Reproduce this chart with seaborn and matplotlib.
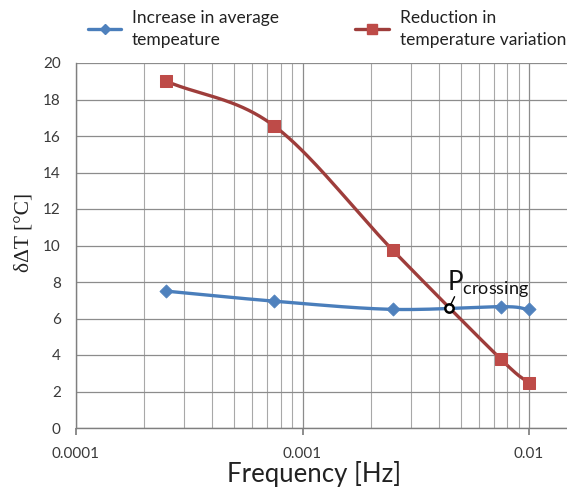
import numpy as np
import pandas as pd
import matplotlib
matplotlib.use("Agg")
import matplotlib.pyplot as plt
from matplotlib.lines import Line2D
from matplotlib.ticker import LogLocator, FixedLocator, NullFormatter
import seaborn as sns

# ---- data ----
freq = [0.00025, 0.00075, 0.0025, 0.0075, 0.01]
increase_avg = [7.5, 6.95, 6.5, 6.65, 6.5]
reduction_var = [19.0, 16.55, 9.75, 3.78, 2.45]
series_labels = ["Increase in average\ntempeature", "Reduction in\ntemperature variation"]
x_ticks = [0.0001, 0.001, 0.01]
x_tick_labels = ["0.0001", "0.001", "0.01"]
y_ticks = list(range(0, 21, 2))
cross_x, cross_y = 0.00444, 6.58

BLUE_LINE = "#4A7EBB"
BLUE_MARK = "#4F81BD"
RED_LINE = "#9E3D3B"
RED_MARK = "#BE4B48"


def catmull_rom(xs, ys, n=40):
    lx = np.log10(np.asarray(xs, float))
    y = np.asarray(ys, float)
    P = np.column_stack([lx, y])
    P = np.vstack([2 * P[0] - P[1], P, 2 * P[-1] - P[-2]])
    out = []
    for i in range(1, len(P) - 2):
        p0, p1, p2, p3 = P[i - 1], P[i], P[i + 1], P[i + 2]
        t = np.linspace(0, 1, n)[:, None]
        seg = 0.5 * ((2 * p1) + (-p0 + p2) * t + (2 * p0 - 5 * p1 + 4 * p2 - p3) * t ** 2
                     + (-p0 + 3 * p1 - 3 * p2 + p3) * t ** 3)
        out.append(seg if i == 1 else seg[1:])
    out = np.vstack(out)
    return 10 ** out[:, 0], out[:, 1]


sns.set_theme(style="white")
plt.rcParams["font.family"] = ["Lato", "DejaVu Sans"]

fig = plt.figure(figsize=(5.67, 4.93), dpi=100)
ax = fig.add_axes([76 / 567, 1 - 428 / 493, 1 - 76 / 567, (428 - 63) / 493])

# smoothed lines
bx, by = catmull_rom(freq, increase_avg)
rx, ry = catmull_rom(freq, reduction_var)
sns.lineplot(x=bx, y=by, ax=ax, sort=False, estimator=None, color=BLUE_LINE, linewidth=2.4, zorder=3)
sns.lineplot(x=rx, y=ry, ax=ax, sort=False, estimator=None, color=RED_LINE, linewidth=2.4, zorder=3)

df = pd.DataFrame({"f": freq, "a": increase_avg, "r": reduction_var})
sns.scatterplot(data=df, x="f", y="a", ax=ax, marker="D", s=45, color=BLUE_MARK, edgecolor=BLUE_MARK, zorder=4)
sns.scatterplot(data=df, x="f", y="r", ax=ax, marker="s", s=85, color=RED_MARK, edgecolor=RED_MARK, zorder=4)

ax.set_xscale("log")
ax.set_xlim(1e-4, 10 ** (-4 + (567 - 76) / 226.5))
ax.set_ylim(0, 20)
ax.xaxis.set_major_locator(FixedLocator(x_ticks))
ax.set_xticklabels(x_tick_labels)
ax.xaxis.set_minor_locator(LogLocator(base=10, subs=np.arange(2, 10)))
ax.xaxis.set_minor_formatter(NullFormatter())
ax.set_yticks(y_ticks)
ax.set_yticklabels([str(v) for v in y_ticks])

ax.grid(which="major", axis="both", color="#8c8c8c", linewidth=0.9)
ax.grid(which="minor", axis="x", color="#a8a8a8", linewidth=0.8)
ax.set_axisbelow(True)
for s in ["top", "right"]:
    ax.spines[s].set_visible(False)
for s in ["left", "bottom"]:
    ax.spines[s].set_color("#7f7f7f")
    ax.spines[s].set_linewidth(1.0)

ax.tick_params(axis="x", which="major", direction="out", length=5, color="#7f7f7f",
               labelsize=11, labelcolor="#3a3a3a", pad=9, bottom=True)
ax.tick_params(axis="x", which="minor", length=0)
ax.tick_params(axis="y", length=0, labelsize=11, labelcolor="#3a3a3a", pad=11)

ax.set_xlabel("Frequency [Hz]", fontsize=18.5, color="#222222")
ax.set_ylabel("δΔT [°C]", fontsize=15.5, family=["Liberation Serif", "DejaVu Serif"], color="#222222")
ax.xaxis.set_label_coords((314 - 76) / 491, (428 - 474) / 365)
ax.xaxis.label.set_va("center")
ax.yaxis.set_label_coords((24 - 76) / 491, (428 - 232) / 365)
ax.yaxis.label.set_va("center")

# crossing point
ax.plot([cross_x], [cross_y], marker="o", markersize=6, markerfacecolor="white",
        markeredgecolor="black", markeredgewidth=1.8, linestyle="none", zorder=6)
ax.annotate("", xy=(cross_x, cross_y), xytext=(cross_x * 1.07, cross_y + 0.75),
            arrowprops=dict(arrowstyle="-", color="black", lw=1.0), zorder=6)
ax.text(cross_x * 0.975, cross_y + 0.5, r"$\mathregular{P_{crossing}}$", fontsize=18.5,
        color="#111111", ha="left", va="bottom", zorder=6)

# legend
handles = [
    Line2D([], [], color=BLUE_LINE, lw=2.4, marker="D", markersize=5, markerfacecolor=BLUE_MARK, markeredgecolor=BLUE_MARK),
    Line2D([], [], color=RED_LINE, lw=2.4, marker="s", markersize=7, markerfacecolor=RED_MARK, markeredgecolor=RED_MARK),
]
leg = fig.legend(handles, series_labels, loc="upper left", bbox_to_anchor=(72 / 567, 1.012), ncol=2,
                 frameon=False, fontsize=12.5, handlelength=1.95, handletextpad=0.6, columnspacing=4.4,
                 labelcolor="#222222")
for t in leg.get_texts():
    t.set_linespacing(1.5)

fig.savefig("out.png", dpi=100)
